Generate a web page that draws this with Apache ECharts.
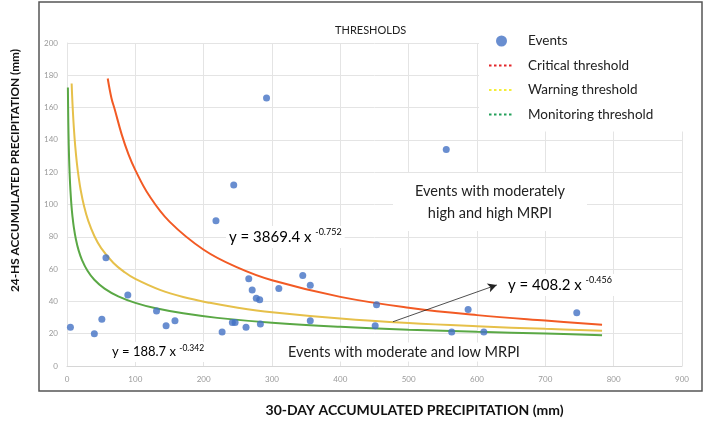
<!DOCTYPE html>
<html>
<head>
<meta charset="utf-8">
<script src="https://cdn.jsdelivr.net/npm/echarts@6/dist/echarts.min.js"></script>
<style>
  html, body { margin: 0; padding: 0; background: #fff; }
  #chart { width: 708px; height: 421px; }
</style>
</head>
<body>
<div id="chart"></div>
<script>
// events: [30-day mm, 24-h mm]
const events = [
  [5, 24], [40, 20], [51, 29], [57, 67], [89, 44], [131, 34], [145, 25], [158, 28],
  [218, 90], [227, 21], [242, 27], [246, 27], [244, 112], [262, 24], [266, 54],
  [271, 47], [277, 42], [282, 41], [283, 26], [292, 166], [310, 48], [345, 56],
  [356, 50], [356, 28], [451, 25], [453, 38], [555, 134], [563, 21], [587, 35],
  [610, 21], [746, 33]
]

// threshold curves, points
const criticalX = [59.6, 65, 70, 80, 90, 100, 120, 150, 200, 250, 300, 400, 500, 600, 700, 783]
const criticalY = [178, 166, 158.7, 143.4, 131, 121.3, 105.7, 89.4, 72, 60.9, 53.1, 42.8, 36.1, 31.5, 28.1, 25.6]

const warningX = [6.8, 7.5, 8.5, 10, 12, 14.5, 17, 20, 25, 31, 40, 50, 68, 85, 100, 136, 170, 209, 250, 300, 400, 500, 600, 700, 783]
const warningY = [174.9, 167.5, 158.6, 147.7, 136.3, 125.5, 117.1, 109, 98.9, 90, 80.5, 73, 63.8, 57.9, 53.9, 47.1, 42.7, 39.1, 36.1, 33.3, 29.4, 26.6, 24.6, 23, 21.9]

const monitoringX = [1.3, 1.7, 2.2, 3, 4, 5, 6.5, 8, 10, 13, 17, 22, 30, 40, 55, 75, 100, 130, 170, 220, 300, 400, 500, 600, 700, 783]
const monitoringY = [172.5, 157.3, 144, 129.5, 117.4, 108.9, 99.5, 92.7, 85.8, 78.5, 71.6, 65.6, 59, 53.4, 47.9, 43.1, 39.1, 35.7, 32.6, 29.8, 26.8, 24.3, 22.5, 21.2, 20.1, 19]

const xTicks = { min: 0, max: 900, interval: 100 }
const yTicks = { min: 0, max: 200, interval: 20 }

const pairs = (xs, ys) => xs.map((x, i) => [x, ys[i]])

const chart = echarts.init(document.getElementById('chart'))
const font = 'Lato, "Open Sans", sans-serif'
const noSymbol = { color: 'rgba(0,0,0,0)', borderWidth: 0, opacity: 0 }

const option = {
  animation: false,
  textStyle: { fontFamily: font },
  title: {
    text: 'THRESHOLDS',
    left: 330,
    top: 20,
    textStyle: { fontSize: 11, fontWeight: 'normal', color: '#222', fontFamily: font },
  },
  legend: {
    orient: 'vertical',
    left: 479,
    top: 28,
    padding: [6, 40, 10, 9],
    backgroundColor: '#fff',
    itemWidth: 25,
    itemHeight: 11,
    itemGap: 10.5,
    textStyle: { fontSize: 13.5, color: '#222', lineHeight: 14, padding: [0, 0, 0, 9], fontFamily: font },
    data: [
      { name: 'Events', icon: 'circle', itemStyle: { color: '#4472c4' } },
      { name: 'Critical threshold', lineStyle: { color: '#e3262a', type: [2.5, 2.5], width: 2 }, itemStyle: noSymbol },
      { name: 'Warning threshold', lineStyle: { color: '#f4ee3a', type: [2.5, 2.5], width: 2 }, itemStyle: noSymbol },
      { name: 'Monitoring threshold', lineStyle: { color: '#23a05a', type: [2.5, 2.5], width: 2 }, itemStyle: noSymbol },
    ],
  },
  grid: { left: 67, right: 26, top: 43, bottom: 55, outerBoundsMode: 'none' },
  xAxis: {
    type: 'value',
    min: xTicks.min,
    max: xTicks.max,
    interval: xTicks.interval,
    name: '30-DAY ACCUMULATED PRECIPITATION (mm)',
    nameLocation: 'middle',
    nameGap: 37,
    nameTextStyle: { fontSize: 14, fontWeight: 'bold', color: '#111', fontFamily: font, padding: [0, 0, 0, 80] },
    axisLine: { show: true, lineStyle: { color: '#d6d6d6' } },
    axisTick: { show: false },
    axisLabel: { fontSize: 8, color: '#9a9a9a', margin: 9 },
    splitLine: { show: true, lineStyle: { color: '#e4e4e4' } },
  },
  yAxis: {
    type: 'value',
    min: yTicks.min,
    max: yTicks.max,
    interval: yTicks.interval,
    name: '24-HS ACCUMULATED PRECIPITATION (mm)',
    nameLocation: 'middle',
    nameGap: 46,
    nameTextStyle: { fontSize: 11.8, fontWeight: 'bold', color: '#111', fontFamily: font, padding: [0, 0, 0, 68] },
    axisLine: { show: true, lineStyle: { color: '#e4e4e4' } },
    axisTick: { show: false },
    axisLabel: { fontSize: 8, color: '#9a9a9a', margin: 9 },
    splitLine: { show: true, lineStyle: { color: '#e4e4e4' } },
  },
  series: [
    {
      name: 'Critical threshold',
      type: 'line',
      data: pairs(criticalX, criticalY),
      smooth: 0.4,
      symbol: 'none',
      lineStyle: { color: '#f25a24', width: 2 },
      itemStyle: { color: '#f25a24' },
      z: 3,
    },
    {
      name: 'Warning threshold',
      type: 'line',
      data: pairs(warningX, warningY),
      smooth: 0.4,
      symbol: 'none',
      lineStyle: { color: '#e6c04a', width: 2 },
      itemStyle: { color: '#e6c04a' },
      z: 3,
      markLine: {
        silent: true,
        symbol: ['none', 'arrow'],
        symbolSize: [7, 9],
        lineStyle: { color: '#222', width: 0.8, type: 'solid' },
        label: { show: false },
        data: [[{ coord: [477, 27.4] }, { coord: [629, 50.2] }]],
      },
    },
    {
      name: 'Monitoring threshold',
      type: 'line',
      data: pairs(monitoringX, monitoringY),
      smooth: 0.4,
      symbol: 'none',
      lineStyle: { color: '#5aa845', width: 2 },
      itemStyle: { color: '#5aa845' },
      z: 3,
    },
    {
      name: 'Events',
      type: 'scatter',
      data: events,
      symbolSize: 7,
      itemStyle: { color: '#4472c4' },
      z: 4,
    },
  ],
  graphic: [
    {
      type: 'rect',
      shape: { x: 39, y: 2, width: 663, height: 389 },
      style: { fill: 'none', stroke: '#555', lineWidth: 1.5 },
      silent: true,
    },
    {
      type: 'text',
      x: 490, y: 202, z: 10,
      style: {
        text: 'Events with moderately\nhigh and high MRPI',
        font: '14.5px ' + font, fill: '#222', align: 'center', verticalAlign: 'middle',
        lineHeight: 22, backgroundColor: '#fff', padding: [8, 22, 6, 22],
      },
    },
    {
      type: 'text',
      x: 226, y: 237, z: 10,
      style: {
        text: '{a|y = 3869.4 x }{s|-0.752}',
        verticalAlign: 'middle', backgroundColor: '#fff', padding: [2, 3],
        rich: {
          a: { fontSize: 15, fontFamily: font, color: '#222', lineHeight: 18 },
          s: { fontSize: 9, fontFamily: font, color: '#222', verticalAlign: 'top', lineHeight: 11 },
        },
      },
    },
    {
      type: 'text',
      x: 505, y: 285, z: 10,
      style: {
        text: '{a|y = 408.2 x }{s|-0.456}',
        verticalAlign: 'middle', backgroundColor: '#fff', padding: [2, 3],
        rich: {
          a: { fontSize: 15, fontFamily: font, color: '#222', lineHeight: 18 },
          s: { fontSize: 9, fontFamily: font, color: '#222', verticalAlign: 'top', lineHeight: 11 },
        },
      },
    },
    {
      type: 'text',
      x: 109, y: 352, z: 10,
      style: {
        text: '{a|y = 188.7 x }{s|-0.342}',
        verticalAlign: 'middle', backgroundColor: '#fff', padding: [2, 3],
        rich: {
          a: { fontSize: 13, fontFamily: font, color: '#222', lineHeight: 16 },
          s: { fontSize: 8.5, fontFamily: font, color: '#222', verticalAlign: 'top', lineHeight: 10 },
        },
      },
    },
    {
      type: 'text',
      x: 404, y: 352, z: 10,
      style: {
        text: 'Events with moderate and low MRPI',
        font: '14.5px ' + font, fill: '#222', align: 'center', verticalAlign: 'middle',
        backgroundColor: '#fff', padding: [2, 4],
      },
    },
  ],
}

chart.setOption(option)
</script>
</body>
</html>
